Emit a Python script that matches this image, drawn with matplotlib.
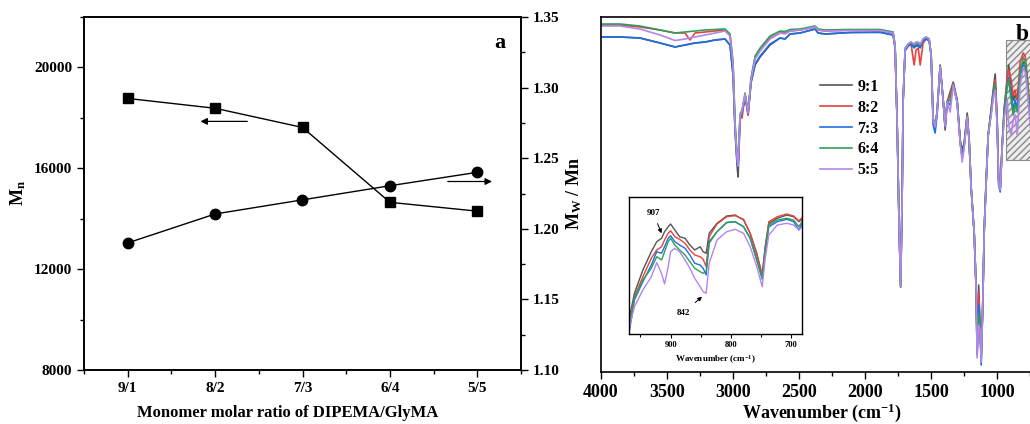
import matplotlib
matplotlib.use("Agg")
import matplotlib.pyplot as plt
from matplotlib.patches import Rectangle
from matplotlib.ticker import MultipleLocator, FormatStrFormatter

plt.rcParams['font.family'] = ['Liberation Serif', 'DejaVu Serif']
plt.rcParams['font.weight'] = 'bold'
plt.rcParams['axes.labelweight'] = 'bold'
plt.rcParams['mathtext.fontset'] = 'custom'
plt.rcParams['mathtext.rm'] = 'Liberation Serif:bold'
plt.rcParams['mathtext.it'] = 'Liberation Serif:bold'
plt.rcParams['mathtext.bf'] = 'Liberation Serif:bold'

# ---- panel a: GPC results ----
ratios = ['9/1', '8/2', '7/3', '6/4', '5/5']
mn = [18770, 18380, 17620, 14650, 14300]
pdi = [1.190, 1.2105, 1.2205, 1.2305, 1.240]

# ---- panel b: FTIR spectra (transmittance, a.u.) ----
wn = [4000, 3856, 3705, 3553, 3439, 3364, 3326, 3288, 3212, 3136,
      3061, 3023, 3000, 2985, 2970, 2962, 2947, 2932, 2909, 2886,
      2864, 2833, 2795, 2720, 2644, 2606, 2568, 2492, 2379, 2356,
      2303, 2114, 1886, 1788, 1773, 1758, 1742, 1731, 1720, 1712,
      1697, 1674, 1652, 1629, 1614, 1598, 1583, 1561, 1538, 1515,
      1500, 1485, 1470, 1455, 1432, 1409, 1394, 1379, 1356, 1333,
      1303, 1280, 1265, 1250, 1227, 1212, 1197, 1174, 1159, 1152,
      1140, 1129, 1121, 1110, 1098, 1083, 1068, 1045, 1030, 1015,
      1000, 989, 977, 962, 947, 924, 913, 894, 879, 864,
      848, 826, 803, 788, 773, 750, 712, 674]
t_91 = [335, 335, 334, 329, 325, 327, 328, 329, 330, 332,
        333, 327, 297, 242, 207, 195, 252, 259, 275, 257,
        289, 307, 315, 327, 334, 333, 338, 339, 343, 339,
        338, 339.5, 340, 337, 324, 252, 142, 85, 172, 272,
        322, 326, 328, 325, 327, 327, 325, 332, 334, 332,
        317, 254, 244, 260, 307, 272, 242, 270, 280, 290,
        272, 232, 222, 229, 259, 232, 184, 139, 82, 22,
        87, 42, 17, 62, 142, 192, 237, 264, 282, 298,
        252, 192, 184, 227, 262, 292, 307, 287, 272, 277,
        272, 300, 310, 309, 292, 257, 222, 262]
t_82 = [347, 347, 345, 342, 339, 339, 332, 339, 340, 341,
        342, 337, 307, 247, 214, 207, 255, 254, 277, 257,
        292, 314, 322, 334, 339, 339, 341, 342, 345, 342,
        341, 342, 342, 339, 326, 252, 142, 87, 172, 272,
        322, 327, 328, 307, 322, 324, 307, 329, 333, 332,
        317, 252, 247, 260, 306, 272, 245, 270, 277, 289,
        271, 230, 217, 227, 257, 231, 184, 139, 82, 20,
        80, 42, 14, 62, 142, 194, 237, 262, 280, 292,
        250, 192, 184, 227, 264, 294, 302, 292, 277, 282,
        272, 310, 319, 316, 297, 262, 224, 264]
t_73 = [335, 335, 334, 329, 325, 327, 328, 329, 330, 332,
        333, 327, 297, 242, 212, 205, 254, 260, 276, 259,
        290, 308, 316, 328, 334, 333, 338, 339, 343, 339,
        338, 339.5, 339.5, 337, 324, 252, 142, 88, 172, 272,
        321, 326, 328, 324, 326, 326, 324, 331, 333, 331,
        317, 247, 239, 257, 305, 272, 245, 270, 267, 288,
        270, 230, 215, 227, 256, 231, 184, 139, 82, 18,
        67, 42, 7, 62, 142, 191, 237, 260, 277, 287,
        247, 187, 180, 224, 260, 287, 294, 277, 262, 272,
        262, 297, 307, 306, 290, 254, 220, 260]
t_64 = [348, 348, 346, 342, 339, 340, 340.5, 341, 342, 342.5,
        343, 338, 310, 250, 217, 210, 258, 262, 279, 261,
        294, 316, 324, 336, 341, 340.5, 342.5, 343, 346, 343,
        342, 342.5, 342.5, 340, 327, 252, 142, 85, 172, 272,
        324, 328, 330, 327, 329, 329, 327, 333, 335, 333,
        317, 254, 247, 260, 306, 272, 246, 270, 272, 288,
        270, 230, 214, 226, 256, 230, 184, 139, 82, 19,
        57, 42, 12, 62, 142, 191, 237, 260, 277, 288,
        248, 190, 182, 226, 260, 287, 292, 272, 257, 267,
        260, 300, 314, 312, 292, 254, 220, 260]
t_55 = [346, 346, 343, 337, 331.5, 333, 334, 335, 337, 339,
        341, 336, 307, 246, 214, 206, 256, 261, 278, 259,
        292, 313, 321, 333, 339, 338, 341, 342, 345, 342,
        341, 341.5, 341.5, 339, 326, 252, 142, 86, 172, 272,
        323, 328, 330, 328, 330, 330, 328, 333, 335, 333,
        317, 252, 245, 260, 305, 272, 246, 270, 260, 287,
        269, 229, 210, 224, 255, 230, 184, 139, 82, 14,
        47, 42, 10, 62, 142, 190, 237, 257, 274, 282,
        247, 189, 182, 224, 254, 272, 247, 237, 252, 257,
        237, 287, 304, 300, 284, 247, 212, 252]

# ---- inset: 970-680 cm-1 region ----
wn_in = [968, 960, 946, 932, 923, 915, 910, 904, 900, 893,
         885, 876, 868, 860, 851, 846, 841, 836, 823, 807,
         793, 779, 768, 757, 748, 743, 737, 723, 707, 696,
         687, 682]
in_91 = [17.3, 40.7, 64, 82.3, 92.3, 95.7, 102.3, 107.3, 110, 104,
         97.3, 95.7, 89, 84, 87.3, 82.3, 80.7, 100.7, 110.7, 118,
         119, 114, 100.7, 80.7, 59, 87.3, 110.7, 115.7, 119, 117.3,
         112.3, 114.7]
in_82 = [12.3, 37.3, 57.3, 75.7, 84, 87.3, 94, 100.7, 103.3, 97.3,
         94.7, 90.7, 84, 79, 77.3, 74.7, 67.3, 97.3, 110, 117.3,
         118.3, 114.7, 100.7, 79, 59, 87.3, 112.3, 117.3, 120, 118,
         113, 116.3]
in_73 = [4, 34, 52.3, 69, 82.3, 80.7, 87.3, 95.7, 98.3, 92.3,
         89, 85.7, 79, 70.7, 69, 65.7, 59, 92.3, 102.3, 111.3,
         112.3, 107.3, 95.7, 74, 54.7, 82.3, 107.3, 112.3, 114.7, 112.3,
         104, 110.7]
in_64 = [10.7, 35.7, 54, 65.7, 77.3, 74, 82.3, 92.3, 95.7, 89,
         84, 79, 72.3, 65.7, 62.3, 60.7, 62.3, 90.7, 102.3, 111.7,
         112.3, 107.3, 95.7, 74, 55.7, 84, 109, 114, 115.7, 114,
         107.3, 112.3]
in_55 = [7.3, 27.3, 44, 57.3, 71.3, 60.7, 50, 67.3, 82.3, 85.7,
         82.3, 74, 65.7, 55.7, 47.3, 42.3, 40.7, 70.7, 94, 102.3,
         104.7, 100.7, 87.3, 67.3, 47.3, 75.7, 99, 109, 110.7, 109,
         104, 107.3]

labels = ['9:1', '8:2', '7:3', '6:4', '5:5']
colors = ['#555555', '#e8413e', '#1f6fe0', '#2e9e5b', '#b386ea']
spectra = [t_91, t_82, t_73, t_64, t_55]
insets = [in_91, in_82, in_73, in_64, in_55]

fig = plt.figure(figsize=(10.3, 4.24), dpi=100)

# ---------------- panel a ----------------
ax1 = fig.add_axes([84 / 1030, 54 / 424, 437 / 1030, 353 / 424])
x = list(range(1, len(ratios) + 1))
ax1.plot(x, mn, color='black', lw=1, marker='s', ms=7)
ax1.set_xlim(0.5, 5.5)
ax1.set_ylim(8000, 22000)
ax1.set_xticks(x)
ax1.set_xticklabels(ratios)
ax1.xaxis.set_minor_locator(MultipleLocator(0.5))
ax1.yaxis.set_major_locator(MultipleLocator(4000))
ax1.yaxis.set_minor_locator(MultipleLocator(2000))
ax1.set_xlabel('Monomer molar ratio of DIPEMA/GlyMA', fontsize=12)
ax1.xaxis.set_label_coords(0.467, -0.1)
ax1.set_ylabel(r'M$_{\mathrm{n}}$', fontsize=13)
ax1.yaxis.set_label_coords(-0.128, 0.5)
ax1.text(0.952, 0.925, 'a', transform=ax1.transAxes, fontsize=16,
         ha='center', va='center')
ax1.annotate('', xy=(1.80, 17860), xytext=(2.40, 17860),
             arrowprops=dict(arrowstyle='-|>', color='black', lw=0.9,
                             mutation_scale=10))

ax2 = ax1.twinx()
ax2.plot(x, pdi, color='black', lw=1, marker='o', ms=7.5)
ax2.set_ylim(1.10, 1.35)
ax2.yaxis.set_major_locator(MultipleLocator(0.05))
ax2.yaxis.set_minor_locator(MultipleLocator(0.025))
ax2.yaxis.set_major_formatter(FormatStrFormatter('%.2f'))
ax2.set_ylabel(r'M$_{\mathrm{W}}$ / Mn', fontsize=13)
ax2.yaxis.set_label_coords(1.10, 0.5)
ax2.annotate('', xy=(5.20, 1.2335), xytext=(4.63, 1.2335),
             arrowprops=dict(arrowstyle='-|>', color='black', lw=0.9,
                             mutation_scale=10))

for a in (ax1, ax2):
    a.tick_params(which='major', direction='out', length=5, width=1, labelsize=11)
    a.tick_params(which='minor', direction='out', length=3, width=1)
    for s in a.spines.values():
        s.set_linewidth(1.2)

# ---------------- panel b ----------------
ax3 = fig.add_axes([601 / 1030, 52 / 424, 449 / 1030, 355 / 424])
ax3.add_patch(Rectangle((932, 212), -400, 120, facecolor='#ededed',
                        edgecolor='#8a8a8a', hatch='/////', lw=0.8, zorder=0))
for t, lab, c in zip(spectra, labels, colors):
    ax3.plot(wn, t, color=c, lw=1.2, label=lab)
ax3.set_xlim(4000, 600)
ax3.set_ylim(0, 355)
ax3.set_yticks([])
ax3.xaxis.set_major_locator(MultipleLocator(500))
ax3.xaxis.set_minor_locator(MultipleLocator(250))
ax3.tick_params(which='major', direction='out', length=5, width=1, labelsize=13)
ax3.tick_params(which='minor', direction='out', length=3, width=1)
for s in ax3.spines.values():
    s.set_linewidth(1.2)
ax3.set_xlabel(r'Wavenumber (cm$^{\mathrm{-1}}$)', fontsize=13)
ax3.xaxis.set_label_coords((822 - 601) / 449, -0.083)
ax3.legend(loc='upper left', bbox_to_anchor=(820 / 1030, 1 - 79 / 424),
           bbox_transform=fig.transFigure, frameon=False, fontsize=11.5,
           handlelength=2.0, handletextpad=0.35, labelspacing=0.3,
           borderpad=0, borderaxespad=0)
fig.text(1016 / 1030, 1 - 35 / 424, 'b', fontsize=17, ha='left', va='center')

# inset
ax4 = fig.add_axes([629 / 1030, 90 / 424, 173 / 1030, 137 / 424])
for t, c in zip(insets, colors):
    ax4.plot(wn_in, t, color=c, lw=1.0)
ax4.set_xlim(969, 682)
ax4.set_ylim(0, 137)
ax4.set_yticks([])
ax4.xaxis.set_major_locator(MultipleLocator(100))
ax4.xaxis.set_minor_locator(MultipleLocator(50))
ax4.tick_params(which='major', direction='out', length=3, width=0.8, labelsize=6, pad=2)
ax4.tick_params(which='minor', direction='out', length=2, width=0.8)
ax4.set_xlabel(r'Wavenumber (cm$^{\mathrm{-1}}$)', fontsize=6.5, labelpad=3)
for s in ax4.spines.values():
    s.set_linewidth(1.0)
ax4.annotate('907', xy=(915, 100.7), xytext=(929, 121), fontsize=6.5,
             ha='center', va='center',
             arrowprops=dict(arrowstyle='-|>', color='black', lw=0.7,
                             mutation_scale=6, shrinkA=3, shrinkB=0))
ax4.annotate('842', xy=(848, 37.3), xytext=(879, 21), fontsize=6.5,
             ha='center', va='center',
             arrowprops=dict(arrowstyle='-|>', color='black', lw=0.7,
                             mutation_scale=6, shrinkA=4, shrinkB=0))

fig.savefig('out.png', dpi=100)
